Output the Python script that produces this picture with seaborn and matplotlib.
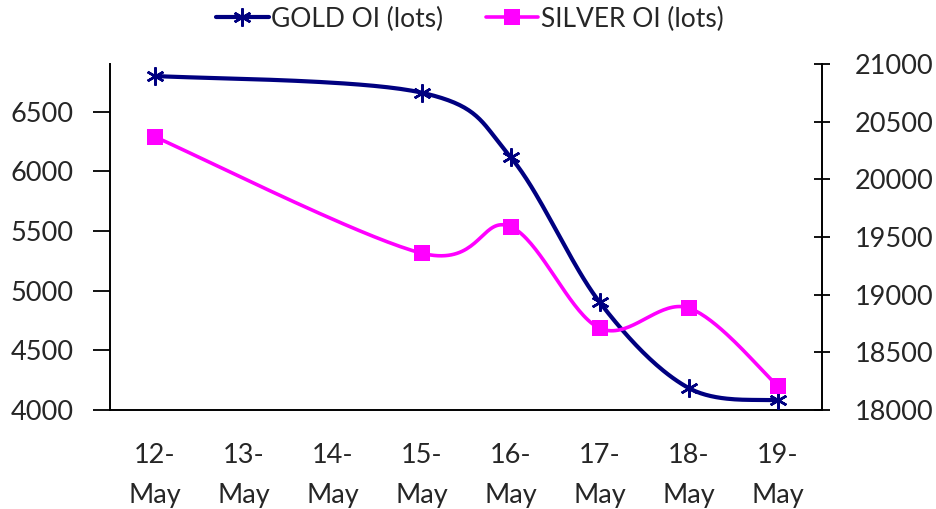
import numpy as np
import pandas as pd
import matplotlib
matplotlib.use("Agg")
import matplotlib.pyplot as plt
from matplotlib.lines import Line2D
import seaborn as sns

# Open interest by trading day (no sessions on 13 and 14 May)
dates = ["12-May", "13-May", "14-May", "15-May", "16-May", "17-May", "18-May", "19-May"]
gold_oi = [6800, np.nan, np.nan, 6660, 6120, 4905, 4185, 4080]
silver_oi = [20370, np.nan, np.nan, 19360, 19590, 18710, 18885, 18210]

GOLD_COLOR = "#000080"
SILVER_COLOR = "#FF00FF"

sns.set_theme(style="white")
plt.rcParams["font.family"] = ["Lato", "DejaVu Sans"]


def smooth_curve(x, y, steps=40):
    """Bezier smoothing through the points (Catmull-Rom style control points)."""
    pts = np.column_stack([x, y]).astype(float)
    n = len(pts)
    out = [pts[0]]
    for i in range(n - 1):
        p0 = pts[i - 1] if i > 0 else pts[i]
        p1 = pts[i]
        p2 = pts[i + 1]
        p3 = pts[i + 2] if i + 2 < n else pts[i + 1]
        c1 = p1 + (p2 - p0) / 6.0
        c2 = p2 - (p3 - p1) / 6.0
        t = np.linspace(0, 1, steps)[1:, None]
        seg = ((1 - t) ** 3) * p1 + 3 * ((1 - t) ** 2) * t * c1 + 3 * (1 - t) * t ** 2 * c2 + t ** 3 * p2
        out.extend(seg)
    out = np.array(out)
    return out[:, 0], out[:, 1]


df = pd.DataFrame({"pos": np.arange(len(dates)), "gold": gold_oi, "silver": silver_oi})

fig = plt.figure(figsize=(9.36, 5.09), dpi=100)
ax = fig.add_axes([110 / 936, 1 - 410 / 509, (822 - 110) / 936, (410 - 64) / 509])
ax2 = ax.twinx()

g = df.dropna(subset=["gold"])
gx, gy = smooth_curve(g["pos"].values, g["gold"].values)
sns.lineplot(x=gx, y=gy, ax=ax, color=GOLD_COLOR, linewidth=3.0, sort=False, estimator=None)
ax.plot(g["pos"], g["gold"], linestyle="none", marker=(6, 2, 0), markersize=13,
        markeredgewidth=1.8, color=GOLD_COLOR, zorder=5)

s = df.dropna(subset=["silver"])
sx, sy = smooth_curve(s["pos"].values, s["silver"].values)
sns.lineplot(x=sx, y=sy, ax=ax2, color=SILVER_COLOR, linewidth=2.6, sort=False, estimator=None)
ax2.plot(s["pos"], s["silver"], linestyle="none", marker="s", markersize=11,
         color=SILVER_COLOR, markeredgewidth=0, zorder=5)

# Axes ranges and ticks
ax.set_xlim(-0.5, len(dates) - 0.5)
ax.set_ylim(4000, 6900)
ax.set_yticks(np.arange(4000, 6501, 500))
ax2.set_ylim(18000, 21000)
ax2.set_yticks(np.arange(18000, 21001, 500))

ax.set_xticks(np.arange(len(dates)))
ax.set_xticklabels([d.replace("-", "-\n") for d in dates], fontsize=19.5, linespacing=1.72)
ax.set_xticks(np.arange(len(dates) + 1) - 0.5, minor=True)
ax.tick_params(axis="x", which="major", length=0, pad=24)
ax.tick_params(axis="x", which="minor", length=7, width=1.3, color="black", direction="out")
ax.tick_params(axis="y", length=12, width=1.3, color="black", direction="out", labelsize=19.5, pad=14)
ax2.tick_params(axis="y", length=11, width=1.3, color="black", direction="inout", labelsize=19.5, pad=18)

for a in (ax, ax2):
    a.set_xlabel("")
    a.set_ylabel("")
    a.grid(False)
    a.spines["top"].set_visible(False)
    for side in ("left", "right", "bottom"):
        a.spines[side].set_color("black")
        a.spines[side].set_linewidth(1.4)
ax.spines["right"].set_visible(False)
ax2.spines["left"].set_visible(False)
ax2.spines["bottom"].set_visible(False)

handles = [
    Line2D([], [], color=GOLD_COLOR, linewidth=3.0, marker=(6, 2, 0), markersize=13, markeredgewidth=1.8),
    Line2D([], [], color=SILVER_COLOR, linewidth=2.6, marker="s", markersize=11, markeredgewidth=0),
]
fig.legend(handles, ["GOLD OI (lots)", "SILVER OI (lots)"], loc="center", bbox_to_anchor=(0.502, 1 - 19 / 509),
           ncol=2, frameon=False, fontsize=19, handlelength=2.0, handletextpad=0.1, columnspacing=1.6)

fig.savefig("out.png", dpi=100)
